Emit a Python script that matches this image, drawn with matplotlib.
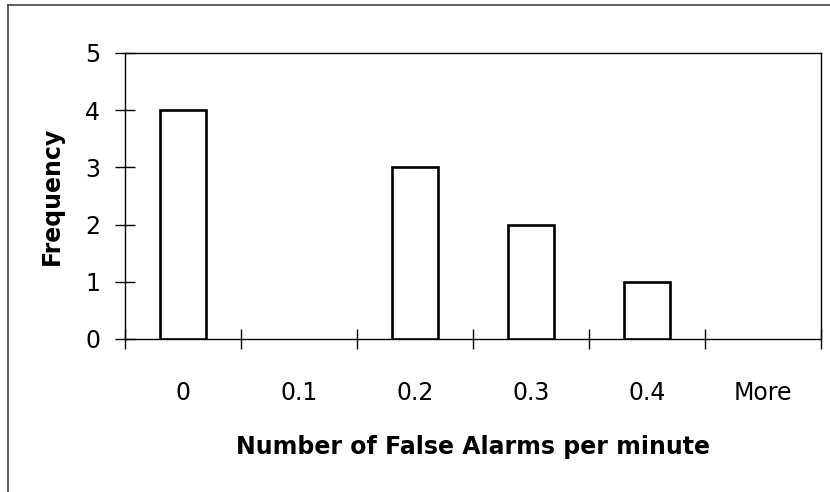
import matplotlib
matplotlib.use("Agg")
import matplotlib.pyplot as plt
from matplotlib.lines import Line2D
from matplotlib.ticker import FixedLocator, NullFormatter

categories = ["0", "0.1", "0.2", "0.3", "0.4", "More"]
frequency = [4, 0, 3, 2, 1, 0]
y_ticks = [0, 1, 2, 3, 4, 5]

plt.rcParams['font.family'] = ['DejaVu Sans']

fig = plt.figure(figsize=(8.3, 4.92), dpi=100)
ax = fig.add_axes([125/830, 1-339/492, (821-125)/830, (339-53)/492])

x = list(range(len(categories)))
xs = [xi for xi, f in zip(x, frequency) if f > 0]
fs = [f for f in frequency if f > 0]
ax.bar(xs, fs, width=0.4, facecolor='white', edgecolor='black', linewidth=1.9, zorder=3)

ax.set_xlim(-0.5, len(categories)-0.5)
ax.set_ylim(0, 5)

ax.xaxis.set_major_locator(FixedLocator([i - 0.5 for i in range(len(categories)+1)]))
ax.xaxis.set_major_formatter(NullFormatter())
ax.xaxis.set_minor_locator(FixedLocator(x))
ax.set_xticklabels(categories, minor=True)
ax.tick_params(axis='x', which='major', direction='inout', length=14, width=1.0)
ax.tick_params(axis='x', which='minor', length=0, pad=30, labelsize=17)

ax.set_yticks(y_ticks)
ax.tick_params(axis='y', which='major', direction='inout', length=14, width=1.0, pad=11, labelsize=17)

for s in ax.spines.values():
    s.set_linewidth(1.0)
    s.set_color('black')

ax.set_ylabel("Frequency", fontsize=17, fontweight='bold', labelpad=15)
ax.set_xlabel("Number of False Alarms per minute", fontsize=17, fontweight='bold', labelpad=22)

fig.add_artist(Line2D([7.5/830, 7.5/830], [0, 1-4.5/492], transform=fig.transFigure, color='#444444', linewidth=1.2))
fig.add_artist(Line2D([7.5/830, 1], [1-4.5/492, 1-4.5/492], transform=fig.transFigure, color='#444444', linewidth=1.2))

fig.savefig("out.png", dpi=100)
